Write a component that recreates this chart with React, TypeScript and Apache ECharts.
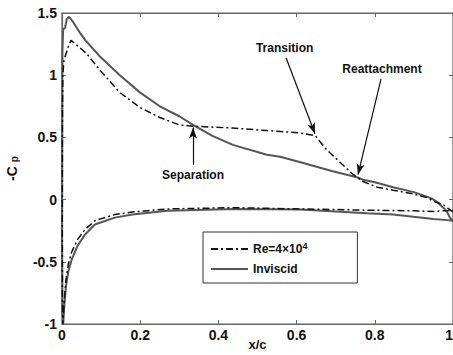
import React, { useEffect, useRef } from "react";
import * as echarts from "echarts";

// Inviscid: upper surface from trailing edge to leading edge, then lower surface back to trailing edge
const inviscidX = [1.0, 0.992, 0.985, 0.975, 0.96, 0.945, 0.9, 0.847, 0.8, 0.77, 0.754, 0.69, 0.61, 0.558, 0.524, 0.437, 0.386, 0.335, 0.3, 0.25, 0.2, 0.148, 0.097, 0.06, 0.046, 0.03, 0.018, 0.012, 0.008, 0.003, 0.001, 0.0005, 0.0, 0.001, 0.003, 0.006, 0.01, 0.016, 0.025, 0.04, 0.059, 0.084, 0.135, 0.18, 0.27, 0.44, 0.61, 0.78, 0.847, 0.95, 0.985, 1.0];
const inviscidY = [-0.17, -0.145, -0.1, -0.065, -0.02, 0.01, 0.06, 0.1, 0.14, 0.16, 0.18, 0.23, 0.3, 0.345, 0.36, 0.44, 0.51, 0.6, 0.67, 0.75, 0.86, 1.0, 1.15, 1.28, 1.34, 1.42, 1.47, 1.45, 1.38, 1.37, 1.2, 0.5, -0.3, -0.9, -1.0, -0.85, -0.7, -0.58, -0.48, -0.37, -0.28, -0.2, -0.145, -0.12, -0.09, -0.075, -0.08, -0.11, -0.12, -0.155, -0.165, -0.17];

// Re = 4x10^4: same ordering
const reX = [1.0, 0.975, 0.955, 0.933, 0.9, 0.865, 0.847, 0.806, 0.77, 0.745, 0.711, 0.677, 0.647, 0.61, 0.558, 0.524, 0.437, 0.335, 0.3, 0.25, 0.2, 0.148, 0.097, 0.064, 0.035, 0.023, 0.015, 0.005, 0.002, 0.001, 0.0008, 0.001, 0.002, 0.003, 0.006, 0.01, 0.016, 0.025, 0.04, 0.059, 0.084, 0.135, 0.18, 0.27, 0.44, 0.61, 0.78, 0.9, 0.95, 1.0];
const reY = [-0.1, -0.04, -0.02, 0.016, 0.045, 0.065, 0.075, 0.1, 0.145, 0.2, 0.3, 0.4, 0.515, 0.535, 0.548, 0.555, 0.575, 0.59, 0.6, 0.66, 0.74, 0.86, 1.04, 1.17, 1.25, 1.28, 1.22, 1.12, 1.0, 0.6, -0.2, -0.8, -1.0, -0.95, -0.8, -0.65, -0.52, -0.42, -0.32, -0.24, -0.17, -0.12, -0.1, -0.075, -0.065, -0.075, -0.085, -0.09, -0.095, -0.085];

const xTicks = { min: 0, max: 1, interval: 0.2 };
const yTicks = { min: -1, max: 1.5, interval: 0.5 };

// Annotations: label, arrow start, arrow end
const annotationNames = ["Transition", "Reattachment", "Separation"];
const annotationFrom = [[0.573, 1.14], [0.816, 0.97], [0.335, 0.28]];
const annotationTo = [[0.647, 0.53], [0.757, 0.2], [0.335, 0.58]];

const seriesNames = ["Re=4×10^4", "Inviscid"];

export default function App() {
  const ref = useRef<HTMLDivElement>(null);
  useEffect(() => {
    if (!ref.current) return;
    const chart = echarts.init(ref.current, null, { renderer: "svg" });
    const font = "Liberation Sans, Arial, Helvetica, sans-serif";
    const zip = (xs: number[], ys: number[]) => xs.map((x, i) => [x, ys[i]]);
    const axisCommon = {
      type: "value" as const,
      axisLine: { show: true, onZero: false, lineStyle: { color: "#666", width: 1.2 } },
      axisTick: { show: true, inside: true, length: 4, lineStyle: { color: "#666" } },
      splitLine: { show: false },
    };
    chart.setOption({
      animation: false,
      backgroundColor: "#fff",
      textStyle: { fontFamily: font },
      grid: {
        left: 62, right: 0, top: 13, bottom: 31,
        show: true, borderColor: "#666", borderWidth: 1.2,
        containLabel: false, outerBoundsMode: "none",
      },
      xAxis: [
        {
          ...axisCommon,
          ...xTicks,
          name: "x/c",
          nameLocation: "middle",
          nameGap: 14,
          nameMoveOverlap: false,
          nameTextStyle: { fontSize: 13, fontWeight: "bold", color: "#111", fontFamily: font },
          axisLabel: {
            fontSize: 14, fontWeight: "bold", color: "#111", margin: 4, fontFamily: font,
            showMaxLabel: true, alignMaxLabel: "right",
          },
        },
        { ...axisCommon, ...xTicks, position: "top", axisLabel: { show: false } },
      ],
      yAxis: [
        {
          ...axisCommon,
          ...yTicks,
          name: "{a|-C}{b|p}",
          nameLocation: "middle",
          nameGap: 43,
          nameRotate: 90,
          nameMoveOverlap: false,
          nameTextStyle: {
            color: "#111",
            rich: {
              a: { fontSize: 14, fontWeight: "bold", color: "#111", fontFamily: font, verticalAlign: "bottom" },
              b: { fontSize: 10, fontWeight: "bold", color: "#111", fontFamily: font, padding: [16, 0, 0, 4], verticalAlign: "bottom" },
            },
          },
          axisLabel: { fontSize: 14, fontWeight: "bold", color: "#111", margin: 5, fontFamily: font },
        },
        { ...axisCommon, ...yTicks, position: "right", axisLabel: { show: false } },
      ],
      legend: {
        orient: "vertical",
        left: 203,
        top: 232,
        itemWidth: 37,
        itemHeight: 14,
        itemGap: 8,
        padding: [9, 50, 8, 7],
        borderColor: "#333",
        borderWidth: 1,
        backgroundColor: "#fff",
        itemStyle: { opacity: 0 },
        data: seriesNames,
        formatter: (n: string) => (n === seriesNames[0] ? "{a|Re=4×10}{s|4}" : "{a|Inviscid}"),
        textStyle: {
          rich: {
            a: { fontSize: 12, fontWeight: "bold", color: "#111", fontFamily: font },
            s: { fontSize: 9, fontWeight: "bold", color: "#111", fontFamily: font, padding: [0, 0, 7, 0] },
          },
        },
      },
      series: [
        {
          name: seriesNames[0],
          type: "line",
          data: zip(reX, reY),
          showSymbol: false,
          symbol: "none",
          lineStyle: { color: "#111", width: 1.5, type: [7, 3, 2, 3] },
          itemStyle: { color: "#111" },
          z: 3,
        },
        {
          name: seriesNames[1],
          type: "line",
          data: zip(inviscidX, inviscidY),
          showSymbol: false,
          symbol: "none",
          lineStyle: { color: "#555", width: 2 },
          itemStyle: { color: "#555" },
          z: 2,
          markLine: {
            silent: true,
            symbol: ["none", "arrow"],
            symbolSize: [6, 11],
            lineStyle: { color: "#111", width: 1.2, type: "solid" },
            label: {
              show: true,
              position: "start",
              formatter: "{b}",
              fontSize: 12,
              fontWeight: "bold",
              color: "#111",
              fontFamily: font,
              distance: 4,
            },
            data: annotationNames.map((name, i) => [
              { name, coord: annotationFrom[i] },
              { coord: annotationTo[i] },
            ]),
          },
        },
      ],
    });
    return () => chart.dispose();
  }, []);
  return <div ref={ref} style={{ width: 453, height: 355, position: "absolute", left: 0, top: 0 }} />;
}
